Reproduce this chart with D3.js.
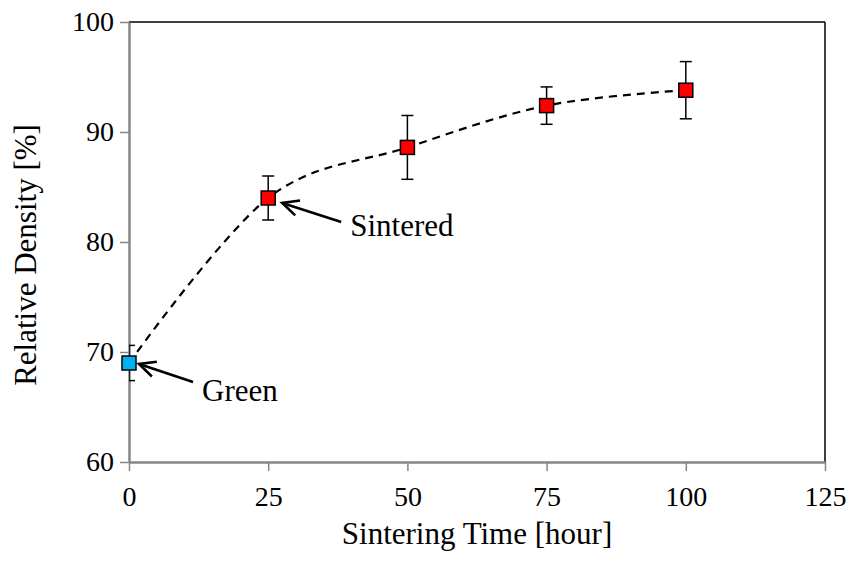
<!DOCTYPE html>
<html>
<head>
<meta charset="utf-8">
<script src="https://cdn.jsdelivr.net/npm/d3@7"></script>
<style>
  body { margin: 0; background: #fff; }
  svg text { font-family: "Liberation Serif", "Times New Roman", serif; fill: #000; }
</style>
</head>
<body>
<div id="chart"></div>
<script>
// sintering data
var hours = [0, 25, 50, 75, 100];
var density = [69.0, 84.0, 88.6, 92.4, 93.8];
var errors = [1.6, 2.0, 2.9, 1.7, 2.6];
var pointColors = ['#00b0f0', '#ff0000', '#ff0000', '#ff0000', '#ff0000'];
var xTicks = [0, 25, 50, 75, 100, 125];
var yTicks = [60, 70, 80, 90, 100];

var W = 851, H = 563;
var margin = {top: 22, right: 26, bottom: 101, left: 129};
var fontSize = 31, tickFont = 28;

var svg = d3.select('#chart').append('svg')
  .attr('width', W)
  .attr('height', H);

var x = d3.scaleLinear().domain([0, 125]).range([margin.left, W - margin.right]);
var y = d3.scaleLinear().domain([60, 100]).range([H - margin.bottom, margin.top]);

var pts = hours.map(function(h, i) {
  return {x: h, y: density[i], e: errors[i], c: pointColors[i]};
});

// frame (top / right are black)
svg.append('line')
  .attr('x1', x(0)).attr('x2', x(125))
  .attr('y1', y(100)).attr('y2', y(100))
  .style('stroke', '#000').style('stroke-width', 1.5);
svg.append('line')
  .attr('x1', x(125)).attr('x2', x(125))
  .attr('y1', y(100)).attr('y2', y(60))
  .style('stroke', '#000').style('stroke-width', 1.5);

// axes
var xAxis = svg.append('g')
  .attr('transform', 'translate(0,' + y(60) + ')')
  .call(d3.axisBottom(x).tickValues(xTicks).tickSize(9).tickSizeOuter(0).tickPadding(15));
var yAxis = svg.append('g')
  .attr('transform', 'translate(' + x(0) + ',0)')
  .call(d3.axisLeft(y).tickValues(yTicks).tickSize(9).tickSizeOuter(0).tickPadding(6));

[xAxis, yAxis].forEach(function(ax) {
  ax.select('.domain').style('stroke', '#868686').style('stroke-width', 2.5);
  ax.selectAll('.tick line').style('stroke', '#868686').style('stroke-width', 1.5);
  ax.selectAll('.tick text')
    .style('font-family', '"Liberation Serif", serif')
    .style('font-size', tickFont + 'px')
    .style('fill', '#000');
});

// axis titles
svg.append('text')
  .attr('x', (x(0) + x(125)) / 2)
  .attr('y', 544)
  .attr('text-anchor', 'middle')
  .style('font-size', fontSize + 'px')
  .text('Sintering Time [hour]');

svg.append('text')
  .attr('transform', 'translate(36,255) rotate(-90)')
  .attr('text-anchor', 'middle')
  .style('font-size', fontSize + 'px')
  .text('Relative Density [%]');

// clip for error bars
svg.append('clipPath').attr('id', 'plotclip')
  .append('rect')
  .attr('x', x(0)).attr('y', y(100))
  .attr('width', x(125) - x(0)).attr('height', y(60) - y(100));

// smoothed dashed line
var line = d3.line()
  .x(function(d) { return x(d.x); })
  .y(function(d) { return y(d.y); })
  .curve(d3.curveCatmullRom.alpha(0));

svg.append('path')
  .datum(pts)
  .attr('d', line)
  .style('fill', 'none')
  .style('stroke', '#000')
  .style('stroke-width', 2.2)
  .style('stroke-dasharray', '8,6');

// error bars
var eb = svg.append('g').attr('clip-path', 'url(#plotclip)');
var cap = 6;
pts.forEach(function(d) {
  var g = eb.append('g').style('stroke', '#000').style('stroke-width', 1.5);
  g.append('line')
    .attr('x1', x(d.x)).attr('x2', x(d.x))
    .attr('y1', y(d.y - d.e)).attr('y2', y(d.y + d.e));
  g.append('line')
    .attr('x1', x(d.x) - cap).attr('x2', x(d.x) + cap)
    .attr('y1', y(d.y + d.e)).attr('y2', y(d.y + d.e));
  g.append('line')
    .attr('x1', x(d.x) - cap).attr('x2', x(d.x) + cap)
    .attr('y1', y(d.y - d.e)).attr('y2', y(d.y - d.e));
});

// markers
var ms = 14;
svg.selectAll('rect.pt')
  .data(pts)
  .enter().append('rect')
  .attr('class', 'pt')
  .attr('x', function(d) { return x(d.x) - ms / 2; })
  .attr('y', function(d) { return y(d.y) - ms / 2; })
  .attr('width', ms)
  .attr('height', ms)
  .style('fill', function(d) { return d.c; })
  .style('stroke', '#000')
  .style('stroke-width', 1.5);

// annotations with open arrowheads
function arrow(x1, y1, x2, y2) {
  var a = Math.atan2(y1 - y2, x1 - x2);
  var len = 18, spread = 0.45;
  var g = svg.append('g').style('stroke', '#000').style('stroke-width', 2.6).style('fill', 'none');
  g.append('line').attr('x1', x1).attr('y1', y1).attr('x2', x2).attr('y2', y2);
  g.append('path')
    .attr('d', 'M' + (x2 + len * Math.cos(a + spread)) + ',' + (y2 + len * Math.sin(a + spread)) +
      'L' + x2 + ',' + y2 +
      'L' + (x2 + len * Math.cos(a - spread)) + ',' + (y2 + len * Math.sin(a - spread)));
}

var green = pts[0], sintered = pts[1];
arrow(x(green.x) + 64, y(green.y) + 19, x(green.x) + 10, y(green.y) + 1);
svg.append('text')
  .attr('x', x(green.x) + 73)
  .attr('y', y(green.y) + 38)
  .style('font-size', fontSize + 'px')
  .text('Green');

arrow(x(sintered.x) + 73, y(sintered.y) + 24, x(sintered.x) + 14, y(sintered.y) + 5);
svg.append('text')
  .attr('x', x(sintered.x) + 82)
  .attr('y', y(sintered.y) + 38)
  .style('font-size', fontSize + 'px')
  .text('Sintered');
</script>
</body>
</html>
